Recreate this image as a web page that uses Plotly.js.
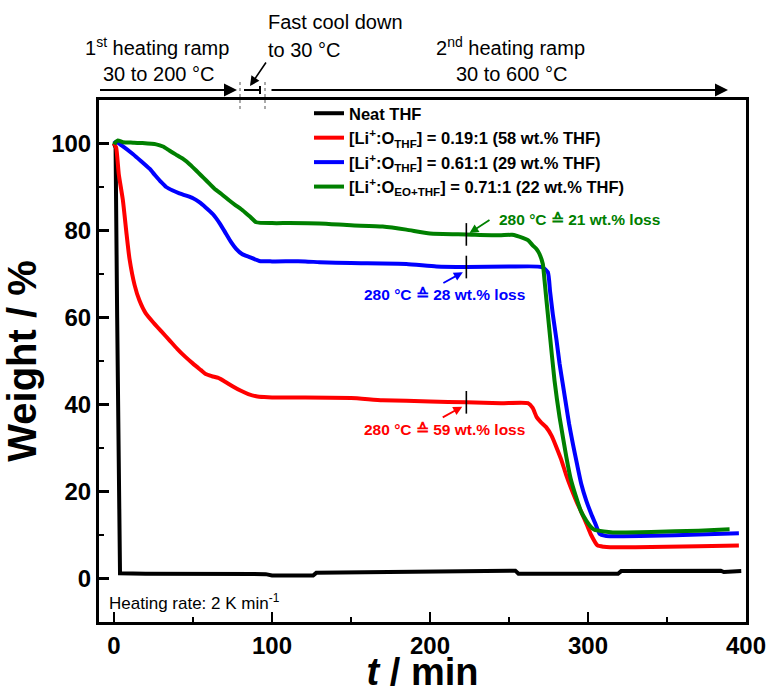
<!DOCTYPE html>
<html>
<head>
<meta charset="utf-8">
<script src="https://cdn.plot.ly/plotly-3.0.1.min.js"></script>
<style>
  html, body { margin: 0; padding: 0; background: #fff; }
  #chart { width: 770px; height: 693px; }
</style>
</head>
<body>
<div id="chart"></div>
<script>
// ---- TGA data: weight (%) vs. time (min) ----
const neatT = [0, 1, 2, 3, 3.8, 20, 50, 80, 96, 100, 126, 128, 160, 200, 230, 254, 256, 290, 319, 321, 350, 384, 386, 389, 397];
const neatW = [100, 99, 60, 10, 1.2, 1.1, 1.1, 1.1, 1.0, 0.7, 0.7, 1.3, 1.4, 1.6, 1.8, 1.8, 1.1, 1.1, 1.1, 1.7, 1.7, 1.8, 1.5, 1.5, 1.7];

const redT = [0, 1.4, 3, 5.6, 8, 9.8, 13, 16, 20, 25, 30, 35, 40, 45, 50, 55, 58, 62, 66, 70, 75, 80, 85, 90, 95, 100, 120, 150, 170, 200, 223, 245, 262, 265, 267.5, 270, 273.5, 277, 280, 283, 286, 289, 292.5, 296, 299, 302, 306, 310, 314, 330, 350, 370, 395.5];
const redW = [100, 99, 93, 87, 79, 73.5, 67.5, 64, 61, 58.8, 56.8, 54.8, 52.8, 51, 49.4, 47.9, 47, 46.5, 46.1, 45.3, 44.2, 43.2, 42.4, 41.9, 41.7, 41.6, 41.6, 41.5, 41, 40.7, 40.5, 40.3, 40.3, 39.2, 37.1, 36, 34.8, 32.8, 30.2, 27.4, 24, 21, 17.9, 15.1, 12.6, 10, 7.6, 7.3, 7.2, 7.2, 7.3, 7.4, 7.6];

const blueT = [0, 1.4, 5, 11.9, 17, 22.5, 26, 29.9, 33, 37.2, 41, 45.7, 50, 54, 58, 62.5, 67, 71, 74, 77.3, 81, 85.8, 92, 100, 121, 130, 150, 185, 204, 223, 250, 271, 274.6, 276, 277.7, 280, 282, 284, 286, 288, 290.4, 293, 295.7, 299, 302, 305, 307.3, 311, 315.7, 340, 370, 395.5];
const blueW = [100, 100.4, 99.5, 97.6, 96, 94.2, 92.7, 91.1, 90, 89.2, 88.6, 88, 87.4, 86.5, 85.3, 83.8, 81.6, 79.2, 77.4, 75.8, 74.6, 73.9, 73, 72.9, 72.9, 72.7, 72.5, 72.3, 71.7, 71.6, 71.7, 71.6, 70.4, 66, 60.8, 55, 49.4, 44.8, 40.2, 35.6, 31, 26.4, 21.8, 17.8, 14.9, 12.3, 10.3, 9.8, 9.7, 9.8, 10.1, 10.4];

const greenT = [0, 0.3, 2.4, 5.6, 12, 18, 26.7, 31, 35, 39, 43.5, 48, 52, 55, 58.4, 63.6, 68, 73, 77, 81.5, 86, 90, 100, 111, 130, 150, 170, 185, 200, 223, 244, 252, 258.7, 262, 265, 267.5, 269.3, 271.4, 272.5, 273.5, 275.6, 278.8, 282, 286.3, 289, 292.5, 295.5, 298.9, 301.5, 304, 310, 315.7, 340, 370, 389.6];
const greenW = [99.8, 100, 100.7, 100.3, 100.2, 100.1, 99.8, 99.3, 98.4, 97.5, 96.5, 95.2, 93.8, 92.7, 91.5, 89.6, 88.4, 86.9, 85.8, 84.6, 83.2, 81.9, 81.7, 81.7, 81.6, 81.2, 80.9, 80.2, 79.3, 79.1, 78.9, 79.0, 78.3, 77.8, 76.6, 75.7, 74.6, 72.3, 68.5, 64.7, 57, 45.5, 37.1, 27.9, 23, 18.7, 15.5, 13.3, 12, 11.2, 10.8, 10.6, 10.7, 11, 11.3];

const seriesNames = [
  'Neat THF',
  '[Li<sup>+</sup>:O<sub>THF</sub>] = 0.19:1 (58 wt.% THF)',
  '[Li<sup>+</sup>:O<sub>THF</sub>] = 0.61:1 (29 wt.% THF)',
  '[Li<sup>+</sup>:O<sub>EO+THF</sub>] = 0.71:1 (22 wt.% THF)'
];
const seriesColors = ['#000000', '#ff0000', '#0000ff', '#008000'];

// Time at which the 280 °C mass loss is marked, and the loss values
const markTime = 223;
const lossLabels = ['280 °C ≙ 59 wt.% loss', '280 °C ≙ 28 wt.% loss', '280 °C ≙ 21 wt.% loss'];

const xTicks = [0, 100, 200, 300, 400];
const yTicks = [0, 20, 40, 60, 80, 100];

// ---- helpers ----
function interp(ts, ws, t) {
  for (let i = 1; i < ts.length; i++) {
    if (ts[i] >= t) {
      const f = (t - ts[i - 1]) / (ts[i] - ts[i - 1]);
      return ws[i - 1] + f * (ws[i] - ws[i - 1]);
    }
  }
  return ws[ws.length - 1];
}
// plot area in pixels
const M = {l: 99, r: 24, t: 100, b: 71}, W = 770, H = 693;
const PW = W - M.l - M.r, PH = H - M.t - M.b;
const px = x => (x - M.l) / PW;          // page x -> paper
const py = y => (H - M.b - y) / PH;      // page y -> paper

const sets = [[neatT, neatW], [redT, redW], [blueT, blueW], [greenT, greenW]];
const traces = sets.map((s, i) => ({
  x: s[0], y: s[1], type: 'scatter', mode: 'lines',
  name: seriesNames[i],
  line: i === 0 ? {color: seriesColors[i], width: 4}
                : {color: seriesColors[i], width: 4, shape: 'spline', smoothing: 0.5},
  hoverinfo: 'skip'
}));

// short vertical markers on each curve at markTime
const markShapes = [1, 2, 3].map(i => {
  const v = interp(sets[i][0], sets[i][1], markTime);
  return {type: 'line', xref: 'x', yref: 'y', x0: markTime, x1: markTime,
          y0: v - 2.6, y1: v + 2.6, line: {color: 'black', width: 1.6}};
});

// heating-programme sketch above the plot
const topShapes = [
  {type: 'line', xref: 'paper', yref: 'paper', x0: px(240), x1: px(240), y0: py(82), y1: py(110),
   line: {color: '#aaaaaa', width: 2, dash: 'dot'}, layer: 'below'},
  {type: 'line', xref: 'paper', yref: 'paper', x0: px(265), x1: px(265), y0: py(82), y1: py(110),
   line: {color: '#aaaaaa', width: 2, dash: 'dot'}, layer: 'below'},
  {type: 'line', xref: 'paper', yref: 'paper', x0: px(244), x1: px(260), y0: py(90), y1: py(90),
   line: {color: 'black', width: 2}},
  {type: 'line', xref: 'paper', yref: 'paper', x0: px(260), x1: px(260), y0: py(86), y1: py(94),
   line: {color: 'black', width: 2}}
];

const topFont = {family: 'Arial, "Liberation Sans", sans-serif', size: 20, color: 'black'};
const annotations = [
  // heating programme
  {xref: 'paper', yref: 'paper', x: px(237), y: py(90), ax: -138.5, ay: 0, text: '',
   showarrow: true, arrowhead: 2, arrowsize: 1.3, arrowwidth: 2, arrowcolor: 'black'},
  {xref: 'paper', yref: 'paper', x: px(728), y: py(90), ax: -458, ay: 0, text: '',
   showarrow: true, arrowhead: 2, arrowsize: 1.3, arrowwidth: 2, arrowcolor: 'black'},
  {xref: 'paper', yref: 'paper', x: px(250), y: py(86), ax: 17, ay: -25, text: '',
   showarrow: true, arrowhead: 2, arrowsize: 1.2, arrowwidth: 1.6, arrowcolor: 'black'},
  {xref: 'paper', yref: 'paper', x: px(157), y: py(46), text: '1<sup>st</sup> heating ramp',
   showarrow: false, font: topFont, xanchor: 'center', yanchor: 'middle'},
  {xref: 'paper', yref: 'paper', x: px(158), y: py(74), text: '30 to 200 °C',
   showarrow: false, font: topFont, xanchor: 'center', yanchor: 'middle'},
  {xref: 'paper', yref: 'paper', x: px(266), y: py(22), text: 'Fast cool down',
   showarrow: false, font: topFont, xanchor: 'left', yanchor: 'middle'},
  {xref: 'paper', yref: 'paper', x: px(266), y: py(50), text: 'to 30 °C',
   showarrow: false, font: topFont, xanchor: 'left', yanchor: 'middle'},
  {xref: 'paper', yref: 'paper', x: px(510), y: py(46), text: '2<sup>nd</sup> heating ramp',
   showarrow: false, font: topFont, xanchor: 'center', yanchor: 'middle'},
  {xref: 'paper', yref: 'paper', x: px(511), y: py(74), text: '30 to 600 °C',
   showarrow: false, font: topFont, xanchor: 'center', yanchor: 'middle'},

  // 280 °C mass-loss labels
  {xref: 'x', yref: 'y', x: 157.1, y: 34.3, text: lossLabels[0], showarrow: false,
   xanchor: 'left', yanchor: 'middle', font: {size: 15.5, color: '#ff0000', weight: 'bold'}},
  {xref: 'x', yref: 'y', x: 220.4, y: 39.5, ax: -21, ay: 11.5, text: '', showarrow: true,
   arrowhead: 2, arrowsize: 1, arrowwidth: 1.8, arrowcolor: '#ff0000'},
  {xref: 'x', yref: 'y', x: 157.1, y: 65.4, text: lossLabels[1], showarrow: false,
   xanchor: 'left', yanchor: 'middle', font: {size: 15.5, color: '#0000ff', weight: 'bold'}},
  {xref: 'x', yref: 'y', x: 220.8, y: 70.4, ax: -21, ay: 11.5, text: '', showarrow: true,
   arrowhead: 2, arrowsize: 1, arrowwidth: 1.8, arrowcolor: '#0000ff'},
  {xref: 'x', yref: 'y', x: 242.7, y: 82.5, text: lossLabels[2], showarrow: false,
   xanchor: 'left', yanchor: 'middle', font: {size: 15.5, color: '#008000', weight: 'bold'}},
  {xref: 'x', yref: 'y', x: 225, y: 79.4, ax: 21.5, ay: -14, text: '', showarrow: true,
   arrowhead: 2, arrowsize: 1, arrowwidth: 1.8, arrowcolor: '#008000'},

  // heating rate note
  {xref: 'x', yref: 'y', x: -4.2, y: -5.3, text: 'Heating rate: 2 K min<sup>-1</sup>', showarrow: false,
   xanchor: 'left', yanchor: 'middle', font: {size: 17, color: 'black'}}
];

const axisCommon = {
  ticks: 'inside', ticklen: 10, tickwidth: 2.5, tickcolor: 'black',
  showline: true, linewidth: 3, linecolor: 'black', mirror: true,
  showgrid: false, zeroline: false,
  tickfont: {family: 'Arial, "Liberation Sans", sans-serif', size: 24, weight: 'bold', color: 'black'}
};

const layout = {
  width: W, height: H,
  margin: M,
  paper_bgcolor: 'white', plot_bgcolor: 'white',
  font: {family: 'Arial, "Liberation Sans", sans-serif', color: 'black'},
  showlegend: true,
  legend: {x: px(309), y: py(96), xanchor: 'left', yanchor: 'top',
           bgcolor: 'rgba(0,0,0,0)', tracegroupgap: 0,
           font: {size: 16.5, weight: 'bold', color: 'black'}},
  xaxis: Object.assign({}, axisCommon, {
    range: [-9.5, 400], tickvals: xTicks,
    minor: {ticks: 'inside', ticklen: 5, tickwidth: 2.5, tickcolor: 'black', dtick: 50, tick0: 0, showgrid: false},
    title: {text: '<i>t</i> / min', font: {size: 38, weight: 'bold'}, standoff: 8}
  }),
  yaxis: Object.assign({}, axisCommon, {
    range: [-10, 110], tickvals: yTicks,
    minor: {ticks: 'inside', ticklen: 5, tickwidth: 2.5, tickcolor: 'black', dtick: 10, tick0: 0, showgrid: false},
    title: {text: 'Weight / %', font: {size: 40, weight: 'bold'}, standoff: 10}
  }),
  shapes: topShapes.concat(markShapes),
  annotations: annotations
};

Plotly.newPlot('chart', traces, layout, {displayModeBar: false, staticPlot: true});
</script>
</body>
</html>
